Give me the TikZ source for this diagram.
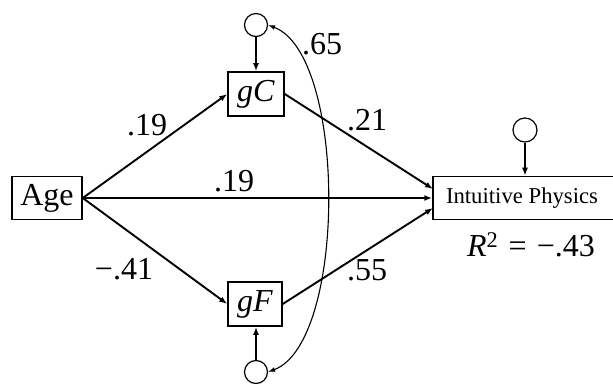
\documentclass[tikz,border=0pt]{standalone}
\usepackage{fontspec}
\setmainfont{Liberation Serif}
\usetikzlibrary{arrows.meta}
\begin{document}
\begin{tikzpicture}[x=1pt,y=1pt,
  var/.style={draw,line width=1.5pt,inner sep=0pt,font=\fontsize{32}{36}\selectfont},
  res/.style={draw,circle,line width=1.2pt,minimum size=23pt,inner sep=0pt},
  lab/.style={inner sep=0pt,font=\fontsize{32}{36}\selectfont},
  path/.style={line width=1.9pt,-{Latex[length=8pt,width=6pt]}},
  cov/.style={line width=1.1pt,{Latex[length=7pt,width=5pt]}-{Latex[length=7pt,width=5pt]}}]
\useasboundingbox (0,0) rectangle (613,383);
\node[var,minimum width=70pt,minimum height=43pt] (age) at (47,185) {Age};
\node[var,minimum width=56pt,minimum height=44pt] (gc) at (256,289) {\textit{gC}};
\node[var,minimum width=54pt,minimum height=44pt] (gf) at (255,79) {\textit{gF}};
\node[var,minimum width=184pt,minimum height=43pt,font=\fontsize{22.7}{26}\selectfont] (ip) at (525,185) {\hspace{-6pt}Intuitive Physics};
\node[res] (tc) at (256,358) {};
\node[res] (bc) at (256,11) {};
\node[res,minimum size=24pt] (rc) at (525,253) {};
\coordinate (ipa) at (433,194);
\coordinate (ipc) at (433,175);
\draw[path] (age.east) -- (gc.west);
\draw[path] (age.east) -- (gf.west);
\draw[path] (age.east) -- (ip.west);
\draw[path] (gc.east) -- (ipa);
\draw[path] (gf.east) -- (ipc);
\draw[path] (tc.south) -- (tc |- gc.north);
\draw[path] (bc.north) -- (bc |- gf.south);
\draw[path] (rc.south) -- (rc |- ip.north);
\draw[cov] (tc.east) .. controls (347,328) and (347,41) .. (bc.east);
\node[lab] (l1) at (322,339) {.65};
\node[lab] (l2) at (147,258) {.19};
\node[lab] (l3) at (234,202) {.19};
\node[lab] (l4) at (124,114) {−.41};
\node[lab] (l5) at (367,263) {.21};
\node[lab] (l6) at (367,113) {.55};
\node[lab] (l7) at (531,138) {\textit{R}\textsuperscript{2}\hspace{0.32em}=\hspace{0.32em}−.43};
\end{tikzpicture}
\end{document}
